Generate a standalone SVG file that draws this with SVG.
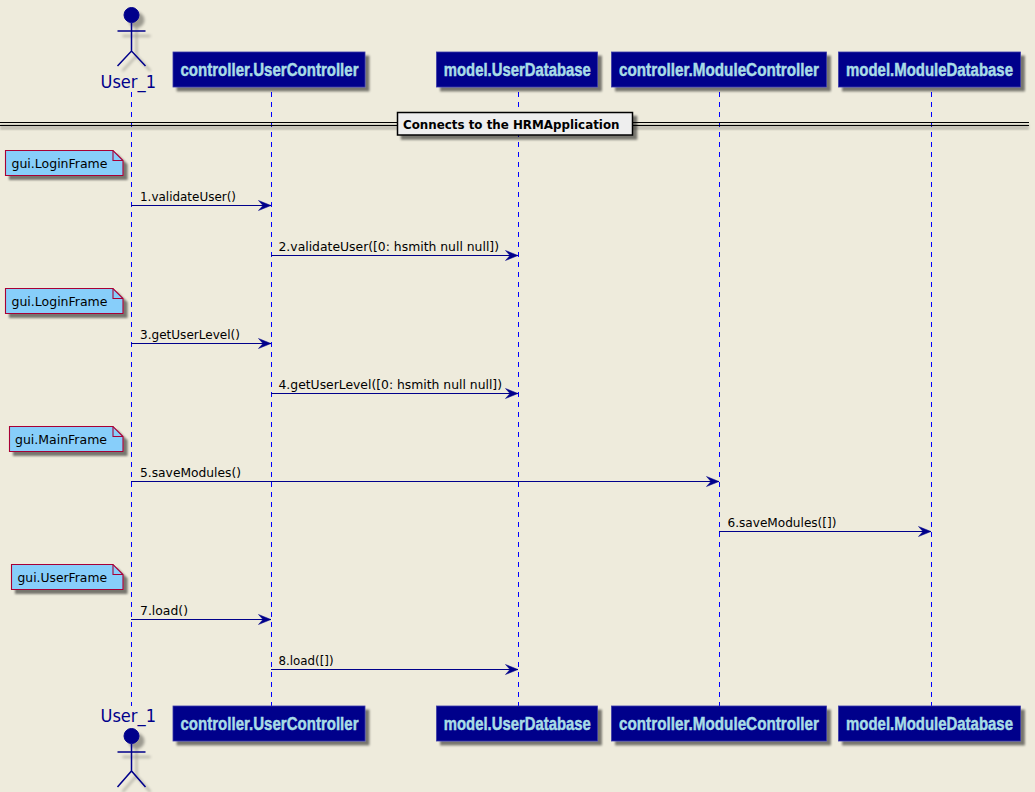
<svg xmlns="http://www.w3.org/2000/svg" width="1035" height="792" viewBox="0 0 1035 792">
<style>
.ll{stroke:#0000ff;stroke-width:1;stroke-dasharray:5 5;fill:none}
.box{fill:#00008b;stroke:#3a3aa8;stroke-width:.8}
.bt{font:bold 19px "Liberation Sans Narrow","Liberation Sans",Arial,sans-serif;fill:#a8dce6;stroke:#a8dce6;stroke-width:.5;text-anchor:middle}
.act{font:17.500px "DejaVu Sans",Verdana,sans-serif;fill:#00008b}
.fig{stroke:#00008b;stroke-width:1.500;fill:none}
.head{fill:#00008b;stroke:#00008b;stroke-width:1}
.msg{stroke:#00008b;stroke-width:1.100;fill:none;marker-end:url(#ah)}
.mt{font:12.500px "DejaVu Sans",Verdana,sans-serif;fill:#000}
.note{fill:#87cefa;stroke:#a80036;stroke-width:1.100}
.fold{fill:none;stroke:#a80036;stroke-width:1.100}
.nt{font:12.500px "DejaVu Sans",Verdana,sans-serif;fill:#000}
.div{stroke:#000;stroke-width:1.100}
</style>
<defs>
<filter id="sh" x="-10%" y="-30%" width="125%" height="170%">
<feGaussianBlur in="SourceAlpha" stdDeviation="1.300" result="b"/>
<feOffset in="b" dx="4" dy="4" result="o"/>
<feComponentTransfer in="o" result="c"><feFuncA type="linear" slope=".5"/></feComponentTransfer>
<feMerge><feMergeNode in="c"/><feMergeNode in="SourceGraphic"/></feMerge>
</filter>
<filter id="shd" filterUnits="userSpaceOnUse" x="0" y="110" width="1035" height="30">
<feGaussianBlur in="SourceAlpha" stdDeviation="1" result="b"/>
<feOffset in="b" dx="0" dy="3" result="o"/>
<feComponentTransfer in="o" result="c"><feFuncA type="linear" slope=".5"/></feComponentTransfer>
<feMerge><feMergeNode in="c"/><feMergeNode in="SourceGraphic"/></feMerge>
</filter>
<filter id="shf" x="-40%" y="-20%" width="190%" height="150%">
<feGaussianBlur in="SourceAlpha" stdDeviation="1.500" result="b"/>
<feOffset in="b" dx="5" dy="5" result="o"/>
<feComponentTransfer in="o" result="c"><feFuncA type="linear" slope=".35"/></feComponentTransfer>
<feMerge><feMergeNode in="c"/><feMergeNode in="SourceGraphic"/></feMerge>
</filter>
<marker id="ah" markerUnits="userSpaceOnUse" markerWidth="15" markerHeight="14" refX="14" refY="7" orient="auto">
<path d="M1.500 2 L14 7 L1.500 12 L6 7 Z" fill="#00008b" stroke="#00008b" stroke-width=".5"/>
</marker>
</defs>
<rect width="1035" height="792" fill="#eeebdc"/>
<g id="lifelines">
<path class="ll" d="M131.500 92V706"/>
<path class="ll" d="M271.500 92V706"/>
<path class="ll" d="M518.500 92V706"/>
<path class="ll" d="M719.500 92V706"/>
<path class="ll" d="M931.500 92V706"/>
</g>
<g id="divider">
<g filter="url(#shd)">
<path class="div" d="M0 122.500H1029M0 125.500H1029"/>
</g>
<rect x="397.500" y="112.500" width="235" height="22.500" fill="#eeeeee" stroke="#000" stroke-width="1.500" filter="url(#sh)"/>
<text x="403" y="129" style="font:bold 12.500px 'DejaVu Sans',sans-serif" fill="#000" textLength="216.500" lengthAdjust="spacingAndGlyphs">Connects to the HRMApplication</text>
</g>
<g id="actor-top">
<g filter="url(#shf)">
<circle class="head" cx="131.500" cy="15" r="7.500"/>
<path class="fig" d="M131.500 23V51M117.500 31H145.500M117.500 66L131.500 51L145.500 66"/>
</g>
<text class="act" x="100.500" y="88" textLength="55.500" lengthAdjust="spacingAndGlyphs">User_1</text>
</g>
<g id="actor-bottom">
<text class="act" x="100.500" y="722" textLength="55.500" lengthAdjust="spacingAndGlyphs">User_1</text>
<g filter="url(#shf)">
<circle class="head" cx="131.500" cy="736" r="7.500"/>
<path class="fig" d="M131.500 744V771M117.500 752H145.500M117.500 787L131.500 771L145.500 787"/>
</g>
</g>
<g id="top-userctrl"><rect class="box" x="173" y="52" width="192" height="35" filter="url(#sh)"/><text class="bt" x="269.500" y="76" textLength="178" lengthAdjust="spacingAndGlyphs">controller.UserController</text></g>
<g id="top-userdb"><rect class="box" x="436.500" y="52" width="161" height="35" filter="url(#sh)"/><text class="bt" x="517.300" y="76" textLength="147" lengthAdjust="spacingAndGlyphs">model.UserDatabase</text></g>
<g id="top-modctrl"><rect class="box" x="611.500" y="52" width="215" height="35" filter="url(#sh)"/><text class="bt" x="719" y="76" textLength="200" lengthAdjust="spacingAndGlyphs">controller.ModuleController</text></g>
<g id="top-moddb"><rect class="box" x="838.500" y="52" width="182" height="35" filter="url(#sh)"/><text class="bt" x="929.500" y="76" textLength="167" lengthAdjust="spacingAndGlyphs">model.ModuleDatabase</text></g>
<g id="bot-userctrl"><rect class="box" x="173" y="706" width="192" height="35" filter="url(#sh)"/><text class="bt" x="269.500" y="730" textLength="178" lengthAdjust="spacingAndGlyphs">controller.UserController</text></g>
<g id="bot-userdb"><rect class="box" x="436.500" y="706" width="161" height="35" filter="url(#sh)"/><text class="bt" x="517.300" y="730" textLength="147" lengthAdjust="spacingAndGlyphs">model.UserDatabase</text></g>
<g id="bot-modctrl"><rect class="box" x="611.500" y="706" width="215" height="35" filter="url(#sh)"/><text class="bt" x="719" y="730" textLength="200" lengthAdjust="spacingAndGlyphs">controller.ModuleController</text></g>
<g id="bot-moddb"><rect class="box" x="838.500" y="706" width="182" height="35" filter="url(#sh)"/><text class="bt" x="929.500" y="730" textLength="167" lengthAdjust="spacingAndGlyphs">model.ModuleDatabase</text></g>
<g id="note1"><g filter="url(#sh)"><path class="note" d="M5.500 150.500H113L123 160.500V175.500H5.500Z"/></g><path class="fold" d="M113 150.500V160.500H123"/><text class="nt" x="11.500" y="168" textLength="96" lengthAdjust="spacingAndGlyphs">gui.LoginFrame</text></g>
<g id="note2"><g filter="url(#sh)"><path class="note" d="M5.500 288.500H113L123 298.500V313.500H5.500Z"/></g><path class="fold" d="M113 288.500V298.500H123"/><text class="nt" x="11.500" y="306" textLength="96" lengthAdjust="spacingAndGlyphs">gui.LoginFrame</text></g>
<g id="note3"><g filter="url(#sh)"><path class="note" d="M9.500 426.500H113L123 436.500V451.500H9.500Z"/></g><path class="fold" d="M113 426.500V436.500H123"/><text class="nt" x="15" y="444" textLength="92" lengthAdjust="spacingAndGlyphs">gui.MainFrame</text></g>
<g id="note4"><g filter="url(#sh)"><path class="note" d="M11.500 564.500H113L123 574.500V589.500H11.500Z"/></g><path class="fold" d="M113 564.500V574.500H123"/><text class="nt" x="17.500" y="582" textLength="89.500" lengthAdjust="spacingAndGlyphs">gui.UserFrame</text></g>
<g id="connectors">
<path class="msg" d="M131 205.500H271"/>
<path class="msg" d="M271 255.500H518"/>
<path class="msg" d="M131 343.500H271"/>
<path class="msg" d="M271 393.500H518"/>
<path class="msg" d="M131 481.500H719"/>
<path class="msg" d="M719 531.500H931"/>
<path class="msg" d="M131 619.500H271"/>
<path class="msg" d="M271 669.500H518"/>
</g>
<g id="labels">
<text class="mt" x="140" y="201" textLength="96" lengthAdjust="spacingAndGlyphs">1.validateUser()</text>
<text class="mt" x="278.500" y="251" textLength="220.500" lengthAdjust="spacingAndGlyphs">2.validateUser([0: hsmith null null])</text>
<text class="mt" x="140" y="339" textLength="100" lengthAdjust="spacingAndGlyphs">3.getUserLevel()</text>
<text class="mt" x="278.500" y="389" textLength="223.500" lengthAdjust="spacingAndGlyphs">4.getUserLevel([0: hsmith null null])</text>
<text class="mt" x="140" y="477" textLength="101" lengthAdjust="spacingAndGlyphs">5.saveModules()</text>
<text class="mt" x="727.500" y="527" textLength="109" lengthAdjust="spacingAndGlyphs">6.saveModules([])</text>
<text class="mt" x="140" y="615" textLength="48" lengthAdjust="spacingAndGlyphs">7.load()</text>
<text class="mt" x="278.500" y="665" textLength="55" lengthAdjust="spacingAndGlyphs">8.load([])</text>
</g>
</svg>
